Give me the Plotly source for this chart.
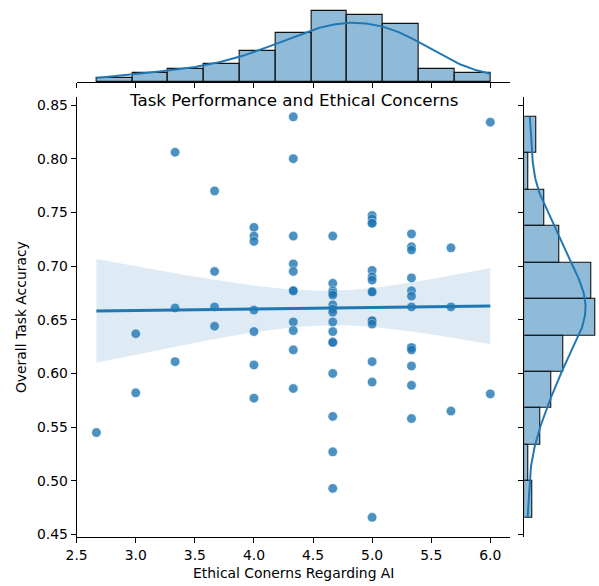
import numpy as np
import plotly.graph_objects as go

# ---------------- data ----------------
ethical_concerns = (
    [2.667]
    + [3.0] * 2
    + [3.333] * 3
    + [3.667] * 4
    + [4.0] * 7
    + [4.333] * 11
    + [4.667] * 16
    + [5.0] * 15
    + [5.333] * 13
    + [5.667] * 3
    + [6.0] * 2
)
task_accuracy = [
    0.545,
    0.637, 0.582,
    0.806, 0.661, 0.611,
    0.770, 0.695, 0.662, 0.644,
    0.736, 0.728, 0.723, 0.659, 0.639, 0.608, 0.577,
    0.839, 0.800, 0.728, 0.702, 0.695, 0.677, 0.677, 0.648, 0.640, 0.622, 0.586,
    0.728, 0.684, 0.677, 0.675, 0.673, 0.664, 0.660, 0.657, 0.648, 0.639, 0.629, 0.629, 0.600, 0.560, 0.527, 0.493,
    0.747, 0.744, 0.740, 0.740, 0.696, 0.690, 0.687, 0.676, 0.676, 0.649, 0.649, 0.646, 0.611, 0.592, 0.466,
    0.730, 0.718, 0.715, 0.689, 0.677, 0.672, 0.662, 0.624, 0.624, 0.622, 0.607, 0.589, 0.558,
    0.717, 0.662, 0.565,
    0.834, 0.581,
]
x_ticks = [2.5, 3.0, 3.5, 4.0, 4.5, 5.0, 5.5, 6.0]
y_ticks = [0.45, 0.50, 0.55, 0.60, 0.65, 0.70, 0.75, 0.80, 0.85]
n_bins = 11

title_text = "Task Performance and Ethical Concerns"
x_label = "Ethical Conerns Regarding AI"
y_label = "Overall Task Accuracy"

# ---------------- derived quantities ----------------
x = np.array(ethical_concerns)
y = np.array(task_accuracy)
n = len(x)

BLUE = "#1f77b4"
W, H = 599, 586


def kde_curve(v, bins_w):
    grid = np.linspace(v.min(), v.max(), 200)
    bw = v.std(ddof=1) * n ** (-1 / 5)
    dens = np.exp(-0.5 * ((grid[:, None] - v[None, :]) / bw) ** 2).sum(1) / (n * bw * np.sqrt(2 * np.pi))
    return grid, dens * n * bins_w


xc, xedges = np.histogram(x, bins=n_bins)
yc, yedges = np.histogram(y, bins=n_bins)
xw = xedges[1] - xedges[0]
yw = yedges[1] - yedges[0]
xkg, xkd = kde_curve(x, xw)
ykg, ykd = kde_curve(y, yw)

# regression + 95% CI
slope, intercept = np.polyfit(x, y, 1)
xg = np.linspace(x.min(), x.max(), 100)
yhat = intercept + slope * xg
resid = y - (intercept + slope * x)
s = np.sqrt((resid ** 2).sum() / (n - 2))
sxx = ((x - x.mean()) ** 2).sum()
tval = 1.992
half = tval * s * np.sqrt(1 / n + (xg - x.mean()) ** 2 / sxx)

# axis limits (matplotlib 5% margins)
xr = [x.min() - 0.05 * (x.max() - x.min()), x.max() + 0.05 * (x.max() - x.min())]
yr = [y.min() - 0.05 * (y.max() - y.min()), y.max() + 0.05 * (y.max() - y.min())]

# pixel layout -> paper domains
px_left, px_right = 76.7, 510.0
py_top, py_bot = 96.8, 537.4
mx_top, mx_bot = 6.9, 82.3
my_left, my_right = 524.3, 598.5

fig = go.Figure()

# joint: CI band
fig.add_trace(go.Scatter(x=np.concatenate([xg, xg[::-1]]), y=np.concatenate([yhat + half, (yhat - half)[::-1]]),
                         fill="toself", fillcolor="rgba(31,119,180,0.15)", line=dict(width=0),
                         hoverinfo="skip", showlegend=False, xaxis="x", yaxis="y"))
# scatter
fig.add_trace(go.Scatter(x=x, y=y, mode="markers",
                         marker=dict(color=BLUE, size=9.5, opacity=0.8, line=dict(color="white", width=0.5)),
                         showlegend=False, xaxis="x", yaxis="y"))
# regression line
fig.add_trace(go.Scatter(x=xg, y=yhat, mode="lines", line=dict(color=BLUE, width=3),
                         showlegend=False, xaxis="x", yaxis="y"))

# top marginal histogram
fig.add_trace(go.Bar(x=(xedges[:-1] + xedges[1:]) / 2, y=xc, width=xw,
                     marker=dict(color="rgba(31,119,180,0.5)", line=dict(color="#111", width=1.1)),
                     showlegend=False, xaxis="x2", yaxis="y2"))
fig.add_trace(go.Scatter(x=xkg, y=xkd, mode="lines", line=dict(color=BLUE, width=2),
                         showlegend=False, xaxis="x2", yaxis="y2"))

# right marginal histogram
fig.add_trace(go.Bar(y=(yedges[:-1] + yedges[1:]) / 2, x=yc, width=yw, orientation="h",
                     marker=dict(color="rgba(31,119,180,0.5)", line=dict(color="#111", width=1.1)),
                     showlegend=False, xaxis="x3", yaxis="y3"))
fig.add_trace(go.Scatter(x=ykd, y=ykg, mode="lines", line=dict(color=BLUE, width=2),
                         showlegend=False, xaxis="x3", yaxis="y3"))

tickfont = dict(family="DejaVu Sans", size=13.9, color="#000")
axis_common = dict(showgrid=False, zeroline=False, showline=True, linecolor="#000", linewidth=1.1,
                   ticks="outside", ticklen=5, tickwidth=1.1, tickcolor="#000", automargin=False)

xdom = [px_left / W, px_right / W]
ydom = [1 - py_bot / H, 1 - py_top / H]

fig.update_layout(
    template="none",
    width=W, height=H, margin=dict(l=0, r=0, t=0, b=0, pad=0),
    paper_bgcolor="white", plot_bgcolor="rgba(0,0,0,0)", bargap=0,
    font=dict(family="DejaVu Sans", color="#000"),
    xaxis=dict(domain=xdom, range=xr, anchor="y", tickvals=x_ticks, tickfont=tickfont,
               ticktext=[f"{v:.1f}" for v in x_ticks], **axis_common),
    yaxis=dict(domain=ydom, range=yr, anchor="x", tickvals=y_ticks, tickfont=tickfont,
               ticktext=[f"{v:.2f}" for v in y_ticks], **axis_common),
    xaxis2=dict(domain=xdom, range=xr, anchor="y2", matches="x", tickvals=x_ticks,
                showticklabels=False, **axis_common),
    yaxis2=dict(domain=[1 - mx_bot / H, 1 - mx_top / H], range=[0, xc.max() * 1.05], anchor="x2",
                visible=False, automargin=False),
    xaxis3=dict(domain=[my_left / W, my_right / W], range=[0, yc.max() * 1.05], anchor="y3",
                visible=False, automargin=False),
    yaxis3=dict(domain=ydom, range=yr, anchor="x3", matches="y", tickvals=y_ticks,
                showticklabels=False, **axis_common),
    annotations=[
        dict(text=title_text, x=(px_left + px_right) / 2 / W, y=1 - 100 / H, xref="paper", yref="paper",
             xanchor="center", yanchor="middle", showarrow=False,
             font=dict(family="DejaVu Sans", size=16.7, color="#000")),
        dict(text=x_label, x=(px_left + px_right) / 2 / W, y=1 - 573 / H, xref="paper", yref="paper",
             xanchor="center", yanchor="middle", showarrow=False,
             font=dict(family="DejaVu Sans", size=13.9, color="#000")),
        dict(text=y_label, x=21 / W, y=1 - (py_top + py_bot) / 2 / H, xref="paper", yref="paper",
             xanchor="center", yanchor="middle", showarrow=False, textangle=-90,
             font=dict(family="DejaVu Sans", size=13.9, color="#000")),
    ],
)

fig.write_html("out.html")
